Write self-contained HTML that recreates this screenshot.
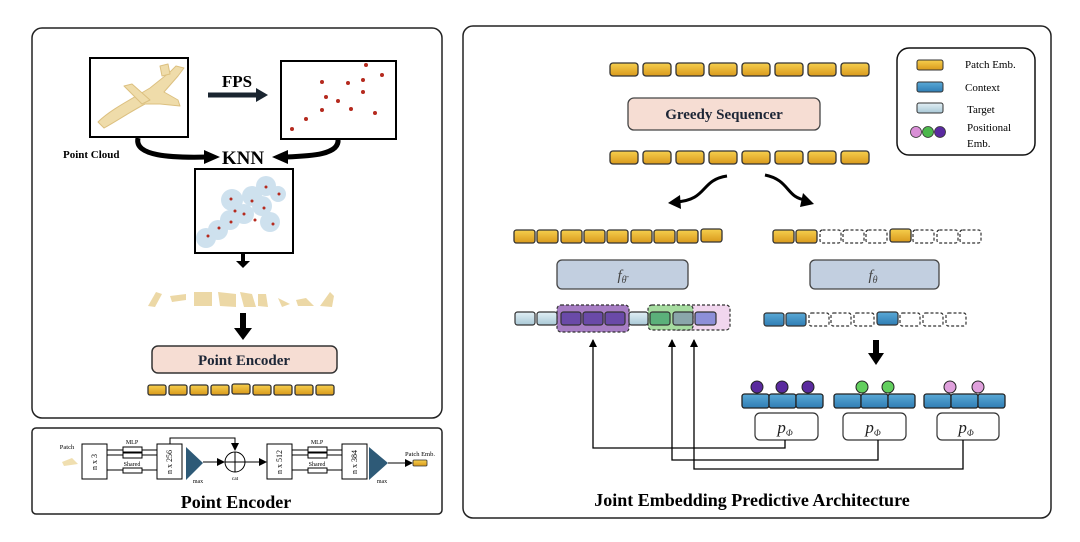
<!DOCTYPE html>
<html><head><meta charset="utf-8"><style>
html,body{margin:0;padding:0;background:#fff;}
svg{display:block;}
text{font-family:"Liberation Serif",serif;}
</style></head><body>
<svg width="1080" height="542" viewBox="0 0 1080 542" xmlns="http://www.w3.org/2000/svg">
<defs>
<linearGradient id="gold" x1="0" y1="0" x2="0" y2="1"><stop offset="0" stop-color="#f6cf4e"/><stop offset="1" stop-color="#d99a1c"/></linearGradient>
<linearGradient id="blue" x1="0" y1="0" x2="0" y2="1"><stop offset="0" stop-color="#5aa9d6"/><stop offset="1" stop-color="#2f7db4"/></linearGradient>
<linearGradient id="tgt" x1="0" y1="0" x2="0" y2="1"><stop offset="0" stop-color="#e2eff5"/><stop offset="1" stop-color="#a9c8d6"/></linearGradient>
<marker id="ah" markerWidth="8" markerHeight="8" refX="7" refY="4" orient="auto" markerUnits="userSpaceOnUse"><path d="M0,0 L8,4 L0,8 z" fill="#000"/></marker>
</defs>

<!-- panels -->
<rect x="32" y="28" width="410" height="390" rx="10" fill="#fff" stroke="#222" stroke-width="1.5"/>
<rect x="32" y="428" width="410" height="86" rx="4" fill="#fff" stroke="#222" stroke-width="1.5"/>
<rect x="463" y="26" width="588" height="492" rx="10" fill="#fff" stroke="#222" stroke-width="1.5"/>

<!-- point cloud box -->
<rect x="90" y="58" width="98" height="79" fill="#fff" stroke="#000" stroke-width="2"/>
<g fill="#efdcaa" stroke="#dcc080" stroke-width="1" stroke-linejoin="round">
<path d="M98,122 C110,110 130,100 150,88 L170,72 L176,66 L184,68 L178,76 L164,92 L178,100 L180,106 L160,104 L145,104 C130,112 115,122 104,128 Z"/>
<path d="M124,86 L132,84 L150,100 L142,104 Z"/>
<path d="M160,66 L168,64 L170,74 L162,76 Z"/>
</g>
<text x="237" y="87" font-size="17" font-weight="bold" text-anchor="middle">FPS</text>
<line x1="208" y1="95" x2="258" y2="95" stroke="#1a2530" stroke-width="5"/>
<path d="M256,88 L268,95 L256,102 z" fill="#1a2530"/>
<rect x="281" y="61" width="115" height="78" fill="#fff" stroke="#000" stroke-width="2"/>
<g fill="#b52a1e">
<circle cx="366" cy="65" r="2"/><circle cx="382" cy="75" r="2"/><circle cx="322" cy="82" r="2"/><circle cx="348" cy="83" r="2"/><circle cx="363" cy="80" r="2"/><circle cx="363" cy="92" r="2"/><circle cx="326" cy="97" r="2"/><circle cx="338" cy="101" r="2"/><circle cx="322" cy="110" r="2"/><circle cx="351" cy="109" r="2"/><circle cx="375" cy="113" r="2"/><circle cx="306" cy="119" r="2"/><circle cx="292" cy="129" r="2"/>
</g>
<text x="63" y="158" font-size="11" font-weight="bold" font-family="Liberation Sans">Point Cloud</text>
<text x="243" y="164" font-size="19" font-weight="bold" text-anchor="middle">KNN</text>
<path d="M138,138 C134,156 170,158 208,157" fill="none" stroke="#000" stroke-width="5"/>
<path d="M204,150 L220,157 L204,164 z" fill="#000"/>
<path d="M338,139 C340,155 310,156 285,157" fill="none" stroke="#000" stroke-width="5"/>
<path d="M288,150 L272,157 L288,164 z" fill="#000"/>
<rect x="195" y="169" width="98" height="84" fill="#fff" stroke="#000" stroke-width="2"/>
<g fill="#c6dcec" opacity="0.85">
<circle cx="266" cy="186" r="10"/><circle cx="278" cy="194" r="8"/><circle cx="252" cy="196" r="10"/><circle cx="232" cy="200" r="11"/><circle cx="262" cy="206" r="10"/><circle cx="244" cy="214" r="10"/><circle cx="270" cy="222" r="10"/><circle cx="230" cy="220" r="10"/><circle cx="218" cy="230" r="10"/><circle cx="206" cy="238" r="10"/>
</g>
<g fill="#b52a1e"><circle cx="266" cy="187" r="1.5"/><circle cx="279" cy="194" r="1.5"/><circle cx="231" cy="199" r="1.5"/><circle cx="252" cy="201" r="1.5"/><circle cx="264" cy="208" r="1.5"/><circle cx="235" cy="211" r="1.5"/><circle cx="244" cy="214" r="1.5"/><circle cx="231" cy="222" r="1.5"/><circle cx="255" cy="220" r="1.5"/><circle cx="273" cy="224" r="1.5"/><circle cx="219" cy="228" r="1.5"/><circle cx="208" cy="236" r="1.5"/></g>
<line x1="243" y1="254" x2="243" y2="262" stroke="#000" stroke-width="4"/>
<path d="M236,261 L250,261 L243,268 z" fill="#000"/>
<!-- patches -->
<g fill="#ecd8a6">
<path d="M148,306 L156,292 L162,294 L155,307z"/><path d="M170,296 L186,294 L186,300 L172,302z"/><rect x="194" y="292" width="18" height="14"/><path d="M218,292 L236,294 L236,307 L220,306z"/><path d="M240,292 L252,294 L256,307 L244,307z"/><path d="M258,294 L266,294 L268,307 L258,306z"/><path d="M278,298 L290,304 L282,307z"/><path d="M296,300 L306,298 L314,306 L298,306z"/><path d="M320,306 L330,292 L334,296 L332,307z"/>
</g>
<line x1="243" y1="313" x2="243" y2="331" stroke="#000" stroke-width="6"/>
<path d="M234,328 L252,328 L243,340 z" fill="#000"/>
<rect x="152" y="346" width="185" height="27" rx="6" fill="#f6ddd3" stroke="#333" stroke-width="1.5"/>
<text x="244" y="365" font-size="15" font-weight="bold" text-anchor="middle" fill="#1d2636">Point Encoder</text>
<g fill="url(#gold)" stroke="#333" stroke-width="1.3">
<rect x="148" y="385" width="18" height="10" rx="2"/><rect x="169" y="385" width="18" height="10" rx="2"/><rect x="190" y="385" width="18" height="10" rx="2"/><rect x="211" y="385" width="18" height="10" rx="2"/><rect x="232" y="384" width="18" height="10" rx="2"/><rect x="253" y="385" width="18" height="10" rx="2"/><rect x="274" y="385" width="18" height="10" rx="2"/><rect x="295" y="385" width="18" height="10" rx="2"/><rect x="316" y="385" width="18" height="10" rx="2"/>
</g>

<!-- bottom point encoder -->
<text x="67" y="449" font-size="6.5" text-anchor="middle">Patch</text>
<path d="M62,462 L72,458 L78,464 L64,466z" fill="#f0dfb0"/>
<rect x="82" y="444" width="25" height="35" fill="#fff" stroke="#000" stroke-width="1"/>
<text transform="translate(97,462) rotate(-90)" font-size="8" text-anchor="middle">n x 3</text>
<g stroke="#000" stroke-width="1" fill="none">
<line x1="107" y1="450" x2="157" y2="450"/><line x1="107" y1="455" x2="157" y2="455"/><line x1="107" y1="470" x2="157" y2="470"/>
<rect x="123" y="447" width="19" height="5" fill="#fff"/><rect x="123" y="453" width="19" height="5" fill="#fff"/><rect x="123" y="468" width="19" height="5" fill="#fff"/>
</g>
<text x="132" y="444" font-size="6" text-anchor="middle">MLP</text>
<text x="132" y="466" font-size="6" text-anchor="middle">Shared</text>
<rect x="157" y="444" width="25" height="35" fill="#fff" stroke="#000" stroke-width="1"/>
<text transform="translate(172,462) rotate(-90)" font-size="8" text-anchor="middle">n x 256</text>
<path d="M170,444 L170,438 L235,438 L235,450" fill="none" stroke="#000" stroke-width="1" marker-end="url(#ah)"/>
<path d="M186,447 L203,463 L186,480z" fill="#2e5a77"/>
<text x="198" y="483" font-size="6" text-anchor="middle">max</text>
<line x1="203" y1="462" x2="224" y2="462" stroke="#000" stroke-width="1" marker-end="url(#ah)"/>
<circle cx="235" cy="462" r="10" fill="#fff" stroke="#000" stroke-width="1"/>
<line x1="225" y1="462" x2="245" y2="462" stroke="#000"/><line x1="235" y1="452" x2="235" y2="472" stroke="#000"/>
<text x="235" y="480" font-size="5.5" text-anchor="middle">cat</text>
<line x1="245" y1="462" x2="266" y2="462" stroke="#000" stroke-width="1" marker-end="url(#ah)"/>
<rect x="267" y="444" width="25" height="35" fill="#fff" stroke="#000" stroke-width="1"/>
<text transform="translate(282,462) rotate(-90)" font-size="8" text-anchor="middle">n x 512</text>
<g stroke="#000" stroke-width="1" fill="none">
<line x1="292" y1="450" x2="342" y2="450"/><line x1="292" y1="455" x2="342" y2="455"/><line x1="292" y1="470" x2="342" y2="470"/>
<rect x="308" y="447" width="19" height="5" fill="#fff"/><rect x="308" y="453" width="19" height="5" fill="#fff"/><rect x="308" y="468" width="19" height="5" fill="#fff"/>
</g>
<text x="317" y="444" font-size="6" text-anchor="middle">MLP</text>
<text x="317" y="466" font-size="6" text-anchor="middle">Shared</text>
<rect x="342" y="444" width="25" height="35" fill="#fff" stroke="#000" stroke-width="1"/>
<text transform="translate(357,462) rotate(-90)" font-size="8" text-anchor="middle">n x 384</text>
<path d="M369,447 L388,463 L369,480z" fill="#2e5a77"/>
<text x="382" y="483" font-size="6" text-anchor="middle">max</text>
<line x1="388" y1="463" x2="412" y2="463" stroke="#000" stroke-width="1" marker-end="url(#ah)"/>
<rect x="413" y="460" width="14" height="6" rx="1" fill="url(#gold)" stroke="#333" stroke-width="0.8"/>
<text x="420" y="456" font-size="6.5" text-anchor="middle">Patch Emb.</text>
<text x="236" y="508" font-size="18" font-weight="bold" text-anchor="middle">Point Encoder</text>

<!-- right panel -->
<g fill="url(#gold)" stroke="#333" stroke-width="1.3">
<rect x="610" y="63" width="28" height="13" rx="3"/><rect x="643" y="63" width="28" height="13" rx="3"/><rect x="676" y="63" width="28" height="13" rx="3"/><rect x="709" y="63" width="28" height="13" rx="3"/><rect x="742" y="63" width="28" height="13" rx="3"/><rect x="775" y="63" width="28" height="13" rx="3"/><rect x="808" y="63" width="28" height="13" rx="3"/><rect x="841" y="63" width="28" height="13" rx="3"/>
<rect x="610" y="151" width="28" height="13" rx="3"/><rect x="643" y="151" width="28" height="13" rx="3"/><rect x="676" y="151" width="28" height="13" rx="3"/><rect x="709" y="151" width="28" height="13" rx="3"/><rect x="742" y="151" width="28" height="13" rx="3"/><rect x="775" y="151" width="28" height="13" rx="3"/><rect x="808" y="151" width="28" height="13" rx="3"/><rect x="841" y="151" width="28" height="13" rx="3"/>
</g>
<rect x="628" y="98" width="192" height="32" rx="6" fill="#f6ddd3" stroke="#444" stroke-width="1.3"/>
<text x="724" y="119" font-size="15" font-weight="bold" text-anchor="middle" fill="#1d2636">Greedy Sequencer</text>

<!-- legend -->
<rect x="897" y="48" width="138" height="107" rx="12" fill="#fff" stroke="#111" stroke-width="1.5"/>
<rect x="917" y="60" width="26" height="10" rx="2" fill="url(#gold)" stroke="#333"/>
<rect x="917" y="82" width="26" height="10" rx="2" fill="url(#blue)" stroke="#333"/>
<rect x="917" y="103" width="26" height="10" rx="2" fill="url(#tgt)" stroke="#333"/>
<circle cx="916" cy="132" r="5.5" fill="#d98fd6" stroke="#333" stroke-width="0.8"/><circle cx="928" cy="132" r="5.5" fill="#4cb84c" stroke="#333" stroke-width="0.8"/><circle cx="940" cy="132" r="5.5" fill="#5a2aa0" stroke="#333" stroke-width="0.8"/>
<text x="965" y="68" font-size="11">Patch Emb.</text>
<text x="965" y="91" font-size="11">Context</text>
<text x="967" y="113" font-size="11">Target</text>
<text x="967" y="131" font-size="11">Positional</text>
<text x="967" y="147" font-size="11">Emb.</text>

<!-- split arrows -->
<path d="M727,176 C700,180 708,200 676,202" fill="none" stroke="#000" stroke-width="3"/>
<path d="M680,195 L668,203 L681,209 z" fill="#000"/>
<path d="M765,175 C790,180 786,198 806,200" fill="none" stroke="#000" stroke-width="3"/>
<path d="M803,193 L814,204 L800,207 z" fill="#000"/>

<!-- left row 230 -->
<g fill="url(#gold)" stroke="#333" stroke-width="1.3">
<rect x="514" y="230" width="21" height="13" rx="2.5"/><rect x="537" y="230" width="21" height="13" rx="2.5"/><rect x="561" y="230" width="21" height="13" rx="2.5"/><rect x="584" y="230" width="21" height="13" rx="2.5"/><rect x="607" y="230" width="21" height="13" rx="2.5"/><rect x="631" y="230" width="21" height="13" rx="2.5"/><rect x="654" y="230" width="21" height="13" rx="2.5"/><rect x="677" y="230" width="21" height="13" rx="2.5"/><rect x="701" y="229" width="21" height="13" rx="2.5"/>
<rect x="773" y="230" width="21" height="13" rx="2.5"/><rect x="796" y="230" width="21" height="13" rx="2.5"/><rect x="890" y="229" width="21" height="13" rx="2.5"/>
</g>
<g fill="#fff" stroke="#333" stroke-width="1.2" stroke-dasharray="3,2">
<rect x="820" y="230" width="21" height="13" rx="2.5"/><rect x="843" y="230" width="21" height="13" rx="2.5"/><rect x="866" y="230" width="21" height="13" rx="2.5"/><rect x="913" y="230" width="21" height="13" rx="2.5"/><rect x="937" y="230" width="21" height="13" rx="2.5"/><rect x="960" y="230" width="21" height="13" rx="2.5"/>
</g>
<rect x="557" y="260" width="131" height="29" rx="5" fill="#c2cfe0" stroke="#444" stroke-width="1.3"/>
<text x="622" y="280" font-size="15" font-style="italic" text-anchor="middle" fill="#444">f<tspan font-size="10" dy="3">θ̄</tspan></text>
<rect x="810" y="260" width="129" height="29" rx="5" fill="#c2cfe0" stroke="#444" stroke-width="1.3"/>
<text x="873" y="280" font-size="15" font-style="italic" text-anchor="middle" fill="#444">f<tspan font-size="10" dy="3">θ</tspan></text>

<!-- row 312 left -->
<rect x="557" y="305" width="72" height="27" rx="4" fill="#a77ec4" stroke="#333" stroke-width="1.2" stroke-dasharray="3,2"/>
<rect x="673" y="305" width="57" height="25" rx="4" fill="#f1d6ee" stroke="#333" stroke-width="1.2" stroke-dasharray="3,2"/>
<rect x="648" y="305" width="45" height="25" rx="4" fill="#a6dca0" stroke="#333" stroke-width="1.2" stroke-dasharray="3,2"/>
<g stroke="#333" stroke-width="1.2">
<rect x="515" y="312" width="20" height="13" rx="2.5" fill="url(#tgt)"/><rect x="537" y="312" width="20" height="13" rx="2.5" fill="url(#tgt)"/>
<rect x="561" y="312" width="20" height="13" rx="2.5" fill="#6a4aa8"/><rect x="583" y="312" width="20" height="13" rx="2.5" fill="#6a4aa8"/><rect x="605" y="312" width="20" height="13" rx="2.5" fill="#6a4aa8"/>
<rect x="629" y="312" width="19" height="13" rx="2.5" fill="url(#tgt)"/>
<rect x="650" y="312" width="20" height="13" rx="2.5" fill="#5bb07a"/>
<rect x="673" y="312" width="20" height="13" rx="2.5" fill="#8aa6aa"/>
<rect x="695" y="312" width="21" height="13" rx="2.5" fill="#8d8fd8"/>
</g>
<!-- row 312 right -->
<g fill="url(#blue)" stroke="#333" stroke-width="1.2">
<rect x="764" y="313" width="20" height="13" rx="2.5"/><rect x="786" y="313" width="20" height="13" rx="2.5"/><rect x="877" y="312" width="21" height="13" rx="2.5"/>
</g>
<g fill="#fff" stroke="#333" stroke-width="1.2" stroke-dasharray="3,2">
<rect x="809" y="313" width="20" height="13" rx="2.5"/><rect x="831" y="313" width="20" height="13" rx="2.5"/><rect x="854" y="313" width="20" height="13" rx="2.5"/><rect x="900" y="313" width="20" height="13" rx="2.5"/><rect x="923" y="313" width="20" height="13" rx="2.5"/><rect x="946" y="313" width="20" height="13" rx="2.5"/>
</g>
<line x1="876" y1="340" x2="876" y2="355" stroke="#000" stroke-width="6"/>
<path d="M868,353 L884,353 L876,365 z" fill="#000"/>

<!-- predictor groups -->
<g stroke="#222" stroke-width="1">
<circle cx="757" cy="387" r="6" fill="#5a2a9e"/><circle cx="782" cy="387" r="6" fill="#5a2a9e"/><circle cx="808" cy="387" r="6" fill="#5a2a9e"/>
<circle cx="862" cy="387" r="6" fill="#62cf5e"/><circle cx="888" cy="387" r="6" fill="#62cf5e"/>
<circle cx="950" cy="387" r="6" fill="#dfa0dc"/><circle cx="978" cy="387" r="6" fill="#dfa0dc"/>
</g>
<g fill="url(#blue)" stroke="#222" stroke-width="1.3">
<rect x="742" y="394" width="27" height="14" rx="2.5"/><rect x="769" y="394" width="27" height="14" rx="2.5"/><rect x="796" y="394" width="27" height="14" rx="2.5"/>
<rect x="834" y="394" width="27" height="14" rx="2.5"/><rect x="861" y="394" width="27" height="14" rx="2.5"/><rect x="888" y="394" width="27" height="14" rx="2.5"/>
<rect x="924" y="394" width="27" height="14" rx="2.5"/><rect x="951" y="394" width="27" height="14" rx="2.5"/><rect x="978" y="394" width="27" height="14" rx="2.5"/>
</g>
<g fill="#fff" stroke="#333" stroke-width="1.2">
<rect x="755" y="413" width="63" height="27" rx="5"/><rect x="843" y="413" width="63" height="27" rx="5"/><rect x="937" y="413" width="62" height="27" rx="5"/>
</g>
<g font-size="17" font-style="italic" text-anchor="middle" fill="#222">
<text x="785" y="433">p<tspan font-size="9" dy="3">Φ</tspan></text>
<text x="873" y="433">p<tspan font-size="9" dy="3">Φ</tspan></text>
<text x="966" y="433">p<tspan font-size="9" dy="3">Φ</tspan></text>
</g>
<g fill="none" stroke="#000" stroke-width="1.3">
<path d="M785,440 L785,448 L593,448 L593,340" marker-end="url(#ah)"/>
<path d="M878,440 L878,460 L672,460 L672,340" marker-end="url(#ah)"/>
<path d="M963,440 L963,469 L694,469 L694,340" marker-end="url(#ah)"/>
</g>
<text x="752" y="506" font-size="18" font-weight="bold" text-anchor="middle">Joint Embedding Predictive Architecture</text>
</svg>
</body></html>
